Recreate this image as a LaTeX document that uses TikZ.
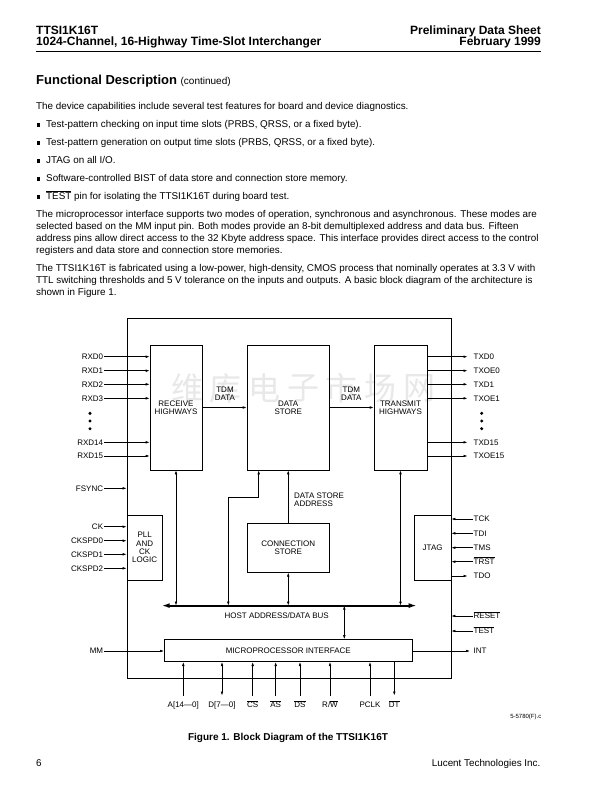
\documentclass[tikz,border=0pt]{standalone}
\usepackage{fontspec}
\setmainfont{Liberation Sans}
\newfontfamily\cjkfont{Noto Sans CJK SC}
\usetikzlibrary{arrows.meta, positioning, calc}
\definecolor{MarkGray}{RGB}{232,232,232}
\newcommand{\ovl}[1]{\ensuremath{\overline{\mbox{#1}}}}
\newcommand{\sqbullet}{\rule{3.8pt}{3.8pt}\hspace{5.9pt}}

\begin{document}
\begin{tikzpicture}[x=1pt, y=-1pt,
  font=\fontsize{8}{8.3}\selectfont,
  blk/.style={draw, line width=0.6pt, inner sep=0pt, align=center},
  pinl/.style={anchor=east, inner sep=1pt, text height=5.8pt, text depth=0pt},
  pinr/.style={anchor=west, inner sep=1pt, text height=5.8pt, text depth=0pt},
  pinb/.style={anchor=north, inner sep=0pt, text height=6pt, text depth=1.6pt},
  sig/.style={line width=0.6pt, -{Latex[length=4pt,width=2.6pt]}},
  sigb/.style={line width=0.6pt, {Latex[length=4pt,width=2.6pt]}-{Latex[length=4pt,width=2.6pt]}},
  bus/.style={line width=2pt, {Latex[length=8pt,width=5pt]}-{Latex[length=8pt,width=5pt]}},
  body/.style={anchor=base west, inner sep=0pt, font=\fontsize{9.85}{12}\selectfont},
  head/.style={inner sep=0pt, font=\fontsize{12}{12}\selectfont\bfseries}]

% Page
\fill[white, use as bounding box] (0,0) rectangle (612,792);

% Running head
\node[head, anchor=base west] (part) at (36,34.5) {TTSI1K16T};
\node[head, anchor=base west] (title) at (36,46) {1024-Channel, 16-Highway Time-Slot Interchanger};
\node[head, anchor=base east] (sheet) at (541,34.5) {Preliminary Data Sheet};
\node[head, anchor=base east] (date) at (541,46) {February 1999};
\draw[line width=1pt] (36,52) -- (541,52);

% Section text
\node[anchor=base west, inner sep=0pt, font=\fontsize{13}{13}\selectfont\bfseries] (sect) at (36,84.5)
  {Functional Description \fontsize{10}{10}\selectfont\mdseries(continued)};
\node[body] (intro) at (36,109) {The device capabilities include several test features for board and device diagnostics.};
\node[body] (feat1) at (36.3,127) {\sqbullet Test-pattern checking on input time slots (PRBS, QRSS, or a fixed byte).};
\node[body] (feat2) at (36.3,145) {\sqbullet Test-pattern generation on output time slots (PRBS, QRSS, or a fixed byte).};
\node[body] (feat3) at (36.3,163) {\sqbullet JTAG on all I/O.};
\node[body] (feat4) at (36.3,181) {\sqbullet Software-controlled BIST of data store and connection store memory.};
\node[body] (feat5) at (36.3,199) {\sqbullet \ovl{TEST} pin for isolating the TTSI1K16T during board test.};

\node[body] (upa) at (36,217) {The microprocessor interface supports two modes of operation, synchronous and asynchronous. These modes are};
\node[body] (upb) at (36,229) {selected based on the MM input pin. Both modes provide an 8-bit demultiplexed address and data bus. Fifteen};
\node[body] (upc) at (36,241) {address pins allow direct access to the 32 Kbyte address space. This interface provides direct access to the control};
\node[body] (upd) at (36,253) {registers and data store and connection store memories.};

\node[body] (fba) at (36,271) {The TTSI1K16T is fabricated using a low-power, high-density, CMOS process that nominally operates at 3.3 V with};
\node[body] (fbb) at (36,283) {TTL switching thresholds and 5 V tolerance on the inputs and outputs. A basic block diagram of the architecture is};
\node[body] (fbc) at (36,295) {shown in Figure 1.};

% Watermark
\foreach \c [count=\i from 0] in {维,库,电,子,市,场,网}
  \node[MarkGray, font=\cjkfont\fontsize{32}{32}\selectfont] (wm\i) at (187+\i*38.7,388.5) {\c};

% Chip outline and blocks
\node[blk, minimum width=324pt, minimum height=360pt] (chip) at (289,498.3) {};
\node[blk, minimum width=52pt, minimum height=125pt] (recv) at (176,407.5) {RECEIVE\\HIGHWAYS};
\node[blk, minimum width=82.5pt, minimum height=125pt] (dstore) at (288.25,407.5) {DATA\\STORE};
\node[blk, minimum width=53pt, minimum height=125pt] (xmit) at (400.5,407.5) {TRANSMIT\\HIGHWAYS};
\node[blk, minimum width=82.5pt, minimum height=49pt] (cstore) at (288.25,547.8) {CONNECTION\\STORE};
\node[blk, minimum width=35.3pt, minimum height=65pt] (pll) at (144.65,547.5) {PLL\\AND\\CK\\LOGIC};
\node[blk, minimum width=36.7pt, minimum height=65pt] (jtag) at (432.65,547.5) {JTAG};
\node[blk, minimum width=248pt, minimum height=22.2pt] (mpi) at (288.3,650.6) {MICROPROCESSOR INTERFACE};

% TDM data path
\node[align=center, inner sep=1pt] (tdmin) at (225,394) {TDM\\DATA};
\node[align=center, inner sep=1pt] (tdmout) at (351.3,394) {TDM\\DATA};
\draw[sig] (recv.east) -- (dstore.west);
\draw[sig] (dstore.east) -- (xmit.west);

% Receive highways
\foreach \n/\y in {0/356.7, 1/370.7, 2/384.3, 3/398.3, 14/442.3, 15/456}{
  \node[pinl] (rxd\n) at (104.3,\y) {RXD\n};
  \draw[sig] (rxd\n.east) -- (rxd\n.east -| recv.west);
}

% Transmit highways
\foreach \n/\y in {TXD0/356.7, TXOE0/370.7, TXD1/384.3, TXOE1/398.3, TXD15/442.3, TXOE15/456}{
  \node[pinr] (\n) at (472.5,\y) {\n};
  \draw[sig, shorten >=5pt] (\n.west -| xmit.east) -- (\n.west);
}

% Elided highways
\foreach \y in {413.3, 421, 428.7}{
  \fill (90,\y) circle (1.7);
  \fill (481.7,\y) circle (1.7);
}

% Frame sync and clock inputs
\node[pinl] (fsync) at (104.3,488.3) {FSYNC};
\draw[sig] (fsync.east) -- (fsync.east -| chip.west);
\foreach \n/\y in {CK/526.7, CKSPD0/540.7, CKSPD1/554.3, CKSPD2/568.3}{
  \node[pinl] (\n) at (104.3,\y) {\n};
  \draw[sig] (\n.east) -- (\n.east -| pll.west);
}

% JTAG port
\foreach \n/\t/\y in {tck/TCK/519, tdi/TDI/533.3, tms/TMS/547.7, trst/{\ovl{TRST}}/561.7}{
  \node[pinr] (\n) at (472.5,\y) {\t};
  \draw[sig] (\n.west) -- (\n.west -| jtag.east);
}
\node[pinr] (tdo) at (472.5,576) {TDO};
\draw[sig, shorten >=5pt] (tdo.west -| jtag.east) -- (tdo.west);

% Reset and test
\node[pinr] (reset) at (472.5,616) {\ovl{RESET}};
\draw[sig] (reset.west) -- (reset.west -| chip.east);
\node[pinr] (test) at (472.5,631) {\ovl{TEST}};
\draw[sig] (test.west) -- (test.west -| chip.east);

% Host address/data bus
\coordinate (busL) at (161.7,605.6);
\coordinate (busR) at (416.7,605.6);
\coordinate (busM) at (344.3,605.6);
\draw[bus] (busL) -- (busR);
\node (buslbl) at (276.7,615.5) {HOST ADDRESS/DATA BUS};
\draw[sigb] (recv.south) -- (recv.south |- busL);
\draw[sigb] (xmit.south) -- (xmit.south |- busL);
\draw[sigb] (cstore.south) -- (cstore.south |- busL);
\coordinate (dsk) at (228.3,497.7);
\draw[sigb] ([xshift=12pt]dstore.south west) |- (dsk) -- (dsk |- busL);
\draw[sigb] (busM) -- (busM |- mpi.north);

% Data store address
\draw[sig] (cstore.north) -- (dstore.south);
\node[anchor=west, align=left, inner sep=1pt] (dsaddr) at (293,500) {DATA STORE\\ADDRESS};

% Microprocessor pins
\node[pinl] (mm) at (104.3,651) {MM};
\draw[sig] (mm.east) -- (mm.east -| mpi.west);
\node[pinr] (int) at (472.5,651) {INT};
\draw[sig, shorten >=2.5pt] (int.west -| mpi.east) -- (int.west);
\foreach \n/\t/\x in {a/{A[14—0]}/183.3, cs/{\ovl{CS}}/252.7, as/{\ovl{AS}}/275.7,
                      ds/{\ovl{DS}}/300, rw/{R/\ovl{W}}/330, pclk/PCLK/370}{
  \node[pinb] (\n) at (\x,701.5) {\t};
  \draw[sig, shorten <=6pt] (\n.north) -- (\n.north |- mpi.south);
}
\node[pinb] (d) at (222,701.5) {D[7—0]};
\draw[sigb, shorten <=6pt] (d.north) -- (d.north |- mpi.south);
\node[pinb] (dt) at (394.3,701.5) {\ovl{DT}};
\draw[sig, shorten >=6pt] (dt.north |- mpi.south) -- (dt.north);

% Caption and folio
\node[anchor=base east, inner sep=0pt, font=\fontsize{6}{6}\selectfont] (figno) at (541.5,718.5) {5-5780(F).c};
\node[anchor=base, inner sep=0pt, font=\fontsize{10}{12}\selectfont\bfseries] (cap) at (288,740) {Figure 1. Block Diagram of the TTSI1K16T};
\node[body] (page) at (36,766.5) {6};
\node[body, anchor=base east] (firm) at (540.5,766.5) {Lucent Technologies Inc.};

\end{tikzpicture}
\end{document}
